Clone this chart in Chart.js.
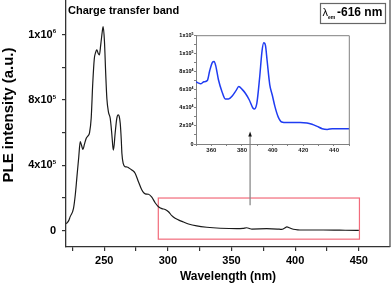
<!DOCTYPE html>
<html><head><meta charset="utf-8">
<script src="https://cdn.jsdelivr.net/npm/chart.js@4.4.1/dist/chart.umd.min.js"></script>
<style>
html,body{margin:0;padding:0;background:#fff;}
#wrap{position:relative;width:392px;height:285px;overflow:hidden;background:#fff;}
#main{position:absolute;left:0;top:0;}
#inset{position:absolute;left:160px;top:28px;}
</style></head><body>
<div id="wrap"><canvas id="main" width="392" height="285"></canvas><canvas id="inset" width="196" height="132"></canvas></div>
<script>
// ---- main spectrum ----
const mainWavelengths = [220.2,222,223.3,225.9,227.3,228.6,230,231.2,232.3,233.3,234.5,235.9,237.2,238.5,239.8,241.0,242.2,243.4,244.2,245.3,246.2,247.3,248.5,249.2,250.2,251.2,252.1,253.4,254.7,255.9,256.8,257.3,258.6,259.9,261.0,261.8,262.6,263.4,263.9,265.0,266.5,268.0,269.1,271.7,274.3,276.9,279.6,282.2,284.8,287.4,290.0,292.6,295.3,297.9,300.5,303.1,305.7,308.3,311.0,316.2,322.7,330.6,341.1,354.2,359,362,364.5,366,377.6,386,389.4,391.5,393.5,395.5,397.3,400,403.8,422.1,435,448.3,450];
const mainIntensity = [42000,60000,86000,137000,220000,331000,450000,545000,520000,498000,530000,566000,580000,600000,690000,900000,1050000,1095000,1107000,1085000,1076000,1140000,1220000,1250000,1160000,960000,810000,725000,690000,600000,515000,494000,597000,688000,709000,700000,658000,560000,474000,410000,392000,390000,386000,372000,352000,300000,249000,225000,223000,205000,171000,147000,135000,130000,116000,92000,76000,66000,57000,41000,29000,21000,15000,12000,14000,18000,12000,10000,12000,10000,8000,15000,23000,18000,12000,7000,4000,4000,3000,2000,2000];
// ---- inset spectrum ----
const insetWavelengths = [350,351.4,353.0,355.2,357.4,358.9,360.7,361.8,362.9,364.6,366.9,369.1,371.2,373.9,376.1,377.9,380.1,382.3,384.7,387.1,388.2,389.7,391.5,393.1,394.2,395.3,396.4,398.1,399.7,401.5,403.6,405.9,409.2,413.6,418.0,422.4,425.7,429.0,432.3,435.6,438.9,442.2,446.6,450];
const insetIntensity = [69000,67800,66700,68900,70400,80900,90400,91500,86600,71500,58300,50000,50000,53800,59100,63600,60500,56000,49000,39900,38800,45200,73400,103500,112200,109200,92200,65900,54600,41400,30100,24400,23700,23700,23700,23300,21800,19500,17000,16200,17000,17000,17000,17000];
// ---- ticks ----
const mainXTicks = [225,250,275,300,325,350,375,400,425,450];
const mainXLabels = [250,300,350,400,450];
const mainYTicks = [0,200000,400000,600000,800000,1000000,1200000];
const mainYLabelValues = [0,400000,800000,1200000];
const mainYLabelBase = ['0','4x10','8x10','1x10'];
const mainYLabelExp = ['','5','5','6'];
const insetXTicks = [350,360,370,380,390,400,410,420,430,440,450];
const insetXLabels = [360,380,400,420,440];
const insetYTicks = [0,10000,20000,30000,40000,50000,60000,70000,80000,90000,100000,110000,120000];
const insetYLabelValues = [0,20000,40000,60000,80000,100000,120000];
const insetYLabelBase = ['0','2x10','4x10','6x10','8x10','1x10','1x10'];
const insetYLabelExp = ['','4','4','4','4','5','5'];
// ---- annotations ----
const zoomBox = {x0:292.5, x1:450.5, y0:-52000, y1:200000};
const arrow = {x:364.6, yFrom:156000, yTo:608000};
const titleText = 'Charge transfer band';
const yTitle = 'PLE intensity (a.u.)';
const xTitle = 'Wavelength (nm)';

const FONT = "'Liberation Sans', Arial, sans-serif";

function pts(xs, ys){ return xs.map((x,i)=>({x:x, y:ys[i]})); }

function drawSupLabels(ctx, scale, values, bases, exps, rightX, size, expSize, expRise){
  ctx.save();
  ctx.fillStyle = '#000';
  ctx.textBaseline = 'middle';
  values.forEach((v,i)=>{
    const y = scale.getPixelForValue(v);
    ctx.font = 'bold '+expSize+'px '+FONT;
    const ew = exps[i] ? ctx.measureText(exps[i]).width : 0;
    ctx.font = 'bold '+size+'px '+FONT;
    const bw = ctx.measureText(bases[i]).width;
    const x0 = rightX - ew - bw;
    ctx.textAlign = 'left';
    ctx.fillText(bases[i], x0, y);
    if (exps[i]){
      ctx.font = 'bold '+expSize+'px '+FONT;
      ctx.textBaseline = 'alphabetic';
      ctx.fillText(exps[i], x0 + bw, y - expRise);
      ctx.textBaseline = 'middle';
    }
  });
  ctx.restore();
}

const mainDecor = {
  id:'mainDecor',
  beforeDatasetsDraw(chart){
    const {ctx, scales:{x,y}} = chart;
    ctx.save();
    ctx.strokeStyle = '#f26b7b';
    ctx.lineWidth = 1.2;
    const X0 = x.getPixelForValue(zoomBox.x0), X1 = x.getPixelForValue(zoomBox.x1);
    const Y0 = y.getPixelForValue(zoomBox.y0), Y1 = y.getPixelForValue(zoomBox.y1);
    ctx.strokeRect(X0, Y1, X1-X0, Y0-Y1);
    // arrow
    const ax = x.getPixelForValue(arrow.x);
    const ay0 = y.getPixelForValue(arrow.yFrom), ay1 = y.getPixelForValue(arrow.yTo);
    ctx.strokeStyle = '#8a8a8a';
    ctx.lineWidth = 1.3;
    ctx.beginPath(); ctx.moveTo(ax, ay0); ctx.lineTo(ax, ay1+4); ctx.stroke();
    ctx.fillStyle = '#111';
    ctx.beginPath(); ctx.moveTo(ax, ay1); ctx.lineTo(ax-1.8, ay1+5); ctx.lineTo(ax+1.8, ay1+5); ctx.closePath(); ctx.fill();
    ctx.restore();
  },
  afterDraw(chart){
    const {ctx, chartArea:a, scales:{y}} = chart;
    ctx.save();
    // right frame
    ctx.strokeStyle = '#555';
    ctx.lineWidth = 1.3;
    ctx.beginPath(); ctx.moveTo(a.right, a.top); ctx.lineTo(a.right, a.bottom); ctx.stroke();
    ctx.restore();
    drawSupLabels(ctx, y, mainYLabelValues, mainYLabelBase, mainYLabelExp, 56, 11, 6, 1.5);
    ctx.save();
    // y title
    ctx.translate(8.5, 115);
    ctx.rotate(-Math.PI/2);
    ctx.font = 'bold 15px '+FONT;
    ctx.fillStyle = '#000';
    ctx.textAlign = 'center';
    ctx.textBaseline = 'middle';
    ctx.fillText(yTitle, 0, 0);
    ctx.restore();
    ctx.save();
    // band label
    ctx.font = 'bold 11px '+FONT;
    ctx.fillStyle = '#000';
    ctx.textBaseline = 'middle';
    ctx.textAlign = 'left';
    ctx.fillText(titleText, 68, 11);
    // lambda box
    ctx.strokeStyle = '#666';
    ctx.lineWidth = 1.2;
    ctx.strokeRect(320.5, 3.5, 65, 20);
    ctx.font = '11px '+FONT;
    ctx.fillText('\u03bb', 322.5, 12.5);
    ctx.font = 'bold 5px '+FONT;
    ctx.fillText('em', 328, 17.5);
    ctx.font = 'bold 12px '+FONT;
    ctx.fillText('-616 nm', 337, 13);
    ctx.restore();
  }
};

new Chart(document.getElementById('main'), {
  type:'line',
  data:{datasets:[{data:pts(mainWavelengths, mainIntensity), borderColor:'#1a1a1a', borderWidth:1.2, pointRadius:0, cubicInterpolationMode:'monotone', fill:false}]},
  options:{
    responsive:false, animation:false, devicePixelRatio:1,
    layout:{padding:{top:0,right:2,left:0,bottom:0}},
    plugins:{legend:{display:false}, tooltip:{enabled:false}},
    scales:{
      x:{type:'linear', min:220, max:474.5,
        afterFit(s){ s.height = 38; },
        afterBuildTicks(s){ s.ticks = mainXTicks.map(v=>({value:v})); },
        ticks:{autoSkip:false, maxRotation:0, padding:3, color:'#000', font:{family:FONT, weight:'bold', size:11},
          callback:(v)=> mainXLabels.includes(v) ? String(v) : ''},
        grid:{drawOnChartArea:false, drawTicks:true, tickLength:4, color:'#333', lineWidth:1.2},
        border:{display:true, color:'#333', width:1.3},
        title:{display:true, text:xTitle, color:'#000', font:{family:FONT, weight:'bold', size:12}, padding:{top:0,bottom:1}}
      },
      y:{type:'linear', min:-100000, max:1413000,
        afterFit(s){ s.width = 66; },
        afterBuildTicks(s){ s.ticks = mainYTicks.map(v=>({value:v})); },
        ticks:{display:false},
        grid:{drawOnChartArea:false, drawTicks:true, tickLength:4, color:'#333', lineWidth:1.2},
        border:{display:true, color:'#333', width:1.3}
      }
    }
  },
  plugins:[mainDecor]
});

const insetDecor = {
  id:'insetDecor',
  afterDraw(chart){
    const {ctx, chartArea:a, scales:{y}} = chart;
    ctx.save();
    ctx.strokeStyle = '#808080';
    ctx.lineWidth = 1;
    ctx.beginPath();
    ctx.moveTo(a.left, a.top); ctx.lineTo(a.right, a.top); ctx.lineTo(a.right, a.bottom);
    ctx.stroke();
    ctx.restore();
    drawSupLabels(ctx, y, insetYLabelValues, insetYLabelBase, insetYLabelExp, 33.5, 5.5, 3.5, 1);
  }
};

new Chart(document.getElementById('inset'), {
  type:'line',
  data:{datasets:[{data:pts(insetWavelengths, insetIntensity), borderColor:'#1f3cf2', borderWidth:1.5, pointRadius:0, cubicInterpolationMode:'monotone', fill:false}]},
  options:{
    responsive:false, animation:false, devicePixelRatio:1,
    layout:{padding:{top:7.7,right:6.7,left:0,bottom:0}},
    plugins:{legend:{display:false}, tooltip:{enabled:false}},
    scales:{
      x:{type:'linear', min:350, max:450,
        afterFit(s){ s.height = 16; },
        afterBuildTicks(s){ s.ticks = insetXTicks.map(v=>({value:v})); },
        ticks:{autoSkip:false, maxRotation:0, padding:1, color:'#222', font:{family:FONT, weight:'bold', size:6},
          callback:(v)=> insetXLabels.includes(v) ? String(v) : ''},
        grid:{drawOnChartArea:false, drawTicks:true, tickLength:2, color:'#808080', lineWidth:1},
        border:{display:true, color:'#808080', width:1}
      },
      y:{type:'linear', min:0, max:120000,
        afterFit(s){ s.width = 36; },
        afterBuildTicks(s){ s.ticks = insetYTicks.map(v=>({value:v})); },
        ticks:{display:false},
        grid:{drawOnChartArea:false, drawTicks:true, tickLength:2, color:'#808080', lineWidth:1},
        border:{display:true, color:'#808080', width:1}
      }
    }
  },
  plugins:[insetDecor]
});
</script>
</body></html>
